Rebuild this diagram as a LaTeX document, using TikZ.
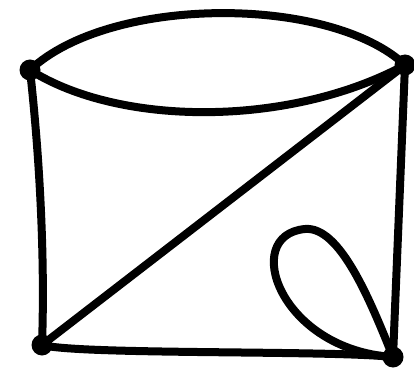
\documentclass[tikz,border=0pt]{standalone}
\usetikzlibrary{positioning}

\begin{document}
\begin{tikzpicture}[
  x=1pt, y=-1pt,
  vertex/.style={circle, fill=black, inner sep=0pt, minimum size=21pt},
  edge/.style={line width=8pt, line cap=round, line join=round}
]
\useasboundingbox (0,0) rectangle (414,379);
\node[vertex] (tl) at (30,70) {};
\node[vertex] (tr) at (405,65) {};
\node[vertex] (bl) at (42,345) {};
\node[vertex] (br) at (393,357) {};
\coordinate (looptop) at (305,229);
\draw[edge] (tl.center) .. controls (110,-5) and (330,-5) .. (tr.center);
\draw[edge] (tl.center) .. controls (120,127) and (290,127) .. (tr.center);
\draw[edge] (tl.center) .. controls (40,160) and (45,260) .. (bl.center);
\draw[edge] (tr.center) -- (br.center);
\draw[edge] (bl.center) -- (tr.center);
\draw[edge] (bl.center) .. controls (80,355) and (330,350) .. (br.center);
\draw[edge] (br.center) .. controls (280,350) and (240,235) .. (looptop)
  .. controls (340,226) and (370,300) .. (br.center);
\end{tikzpicture}
\end{document}
